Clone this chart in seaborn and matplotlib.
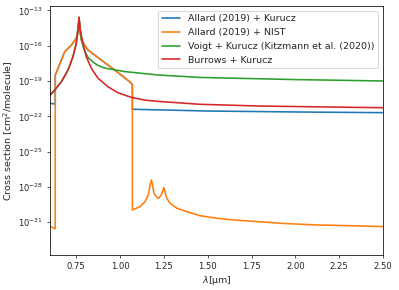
import numpy as np
import pandas as pd
import matplotlib
matplotlib.use("Agg")
import matplotlib.pyplot as plt
import seaborn as sns
from matplotlib.ticker import FixedLocator, LogFormatterSciNotation, NullLocator

# ---- data (wavelength in micron, cross section in cm^2/molecule) ----
blue_wl = [0.600, 0.629, 0.630, 0.630, 0.646, 0.684, 0.722, 0.750, 0.762, 0.7655, 0.769,
           0.779, 0.817, 0.893, 0.969, 1.055, 1.068, 1.070, 1.070, 1.5, 2.0, 2.5]
blue_cs = [1.26e-21, 1.12e-21, 1.12e-21, 3.16e-19, 1.20e-18, 3.09e-17, 1.12e-16, 4.17e-16,
           3.98e-15, 2.51e-14, 2.51e-15, 3.02e-16, 4.27e-17, 6.03e-18, 8.51e-19, 8.71e-20,
           5.50e-20, 5.01e-20, 3.98e-22, 2.82e-22, 2.34e-22, 2.04e-22]

orange_wl = [0.600, 0.629, 0.630, 0.630, 0.646, 0.684, 0.722, 0.750, 0.762, 0.7655, 0.769,
             0.779, 0.817, 0.893, 0.969, 1.055, 1.068, 1.070, 1.070, 1.114, 1.142, 1.161,
             1.171, 1.178, 1.185, 1.193, 1.209, 1.220, 1.235, 1.245, 1.249, 1.254, 1.266,
             1.285, 1.323, 1.380, 1.456, 1.551, 1.646, 1.741, 1.931, 2.122, 2.312, 2.500]
orange_cs = [4.47e-32, 2.82e-32, 2.82e-32, 3.16e-19, 1.20e-18, 3.09e-17, 1.12e-16, 4.17e-16,
             3.98e-15, 2.51e-14, 2.51e-15, 3.02e-16, 4.27e-17, 6.03e-18, 8.51e-19, 8.71e-20,
             5.50e-20, 5.01e-20, 1.12e-30, 2.14e-30, 5.62e-30, 2.09e-29, 1.48e-28, 3.98e-28,
             1.48e-28, 2.88e-29, 1.32e-29, 1.10e-29, 2.09e-29, 5.50e-29, 8.71e-29, 5.01e-29,
             1.10e-29, 4.07e-30, 1.58e-30, 7.94e-31, 3.63e-31, 2.19e-31, 1.58e-31, 1.26e-31,
             7.94e-32, 5.89e-32, 5.13e-32, 4.27e-32]

green_wl = [0.600, 0.627, 0.665, 0.703, 0.731, 0.750, 0.760, 0.7655, 0.773, 0.781, 0.790,
            0.800, 0.820, 0.850, 0.874, 0.912, 0.970, 1.026, 1.216, 1.456, 2.000, 2.500]
green_cs = [6.31e-21, 1.70e-20, 8.71e-20, 8.51e-19, 1.15e-17, 1.58e-16, 2.14e-15, 2.51e-14,
            2.14e-15, 2.51e-16, 7.94e-17, 2.82e-17, 8.91e-18, 3.55e-18, 2.09e-18, 1.26e-18,
            8.91e-19, 6.31e-19, 3.24e-19, 2.00e-19, 1.32e-19, 1.00e-19]

red_wl = [0.600, 0.627, 0.665, 0.703, 0.731, 0.750, 0.760, 0.7655, 0.773, 0.788, 0.807,
          0.836, 0.874, 0.931, 0.988, 1.064, 1.140, 1.216, 1.456, 1.800, 2.500]
red_cs = [6.31e-21, 1.70e-20, 8.71e-20, 8.51e-19, 1.15e-17, 1.58e-16, 2.14e-15, 2.51e-14,
          2.14e-15, 1.58e-16, 1.15e-17, 1.20e-18, 1.70e-19, 3.24e-20, 1.00e-20, 4.07e-21,
          2.40e-21, 1.86e-21, 1.05e-21, 7.41e-22, 5.37e-22]

labels = ["Allard (2019) + Kurucz", "Allard (2019) + NIST",
          "Voigt + Kurucz (Kitzmann et al. (2020))", "Burrows + Kurucz"]
colors = ["#1f77b4", "#ff7f0e", "#2ca02c", "#d62728"]
ytick_vals = [1e-13, 1e-16, 1e-19, 1e-22, 1e-25, 1e-28, 1e-31]
xtick_vals = [0.75, 1.00, 1.25, 1.50, 1.75, 2.00, 2.25, 2.50]

sns.set_style("ticks")
plt.rcParams["font.family"] = ["DejaVu Sans"]

DPI = 68
fig = plt.figure(figsize=(399 / DPI, 290 / DPI), dpi=DPI)
ax = fig.add_axes([50/399, 1-255/290, 333/399, 249/290])

series = [(blue_wl, blue_cs), (orange_wl, orange_cs), (green_wl, green_cs), (red_wl, red_cs)]
for (wl, cs), lab, col in zip(series, labels, colors):
    sns.lineplot(x=wl, y=cs, estimator=None, sort=False, color=col, label=lab,
                 linewidth=1.7, ax=ax)

ax.set_yscale("log")
ax.set_xlim(0.6, 2.5)
ax.set_ylim(10**-33.78, 10**-12.63)
ax.yaxis.set_major_locator(FixedLocator(ytick_vals))
ax.yaxis.set_major_formatter(LogFormatterSciNotation())
ax.yaxis.set_minor_locator(NullLocator())
ax.set_xticks(xtick_vals)
ax.tick_params(labelsize=9)
ax.set_xlabel(r"$\lambda$[µm]", fontsize=10)
ax.set_ylabel(r"Cross section [cm$^2$/molecule]", fontsize=10)
for s in ax.spines.values():
    s.set_visible(True)
    s.set_color("black")
    s.set_linewidth(0.8)
ax.legend(loc="upper right", fontsize=10)

fig.savefig("out.png", dpi=DPI)
